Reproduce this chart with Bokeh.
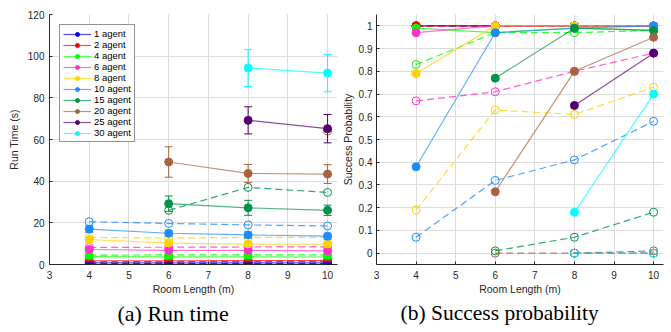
import numpy as np
from bokeh.plotting import figure
from bokeh.layouts import row
from bokeh.models import (ColumnDataSource, Whisker, TeeHead, Legend, LegendItem,
                          Title, Range1d, FixedTicker, CustomJSTickFormatter)
from bokeh.embed import file_html
from bokeh.resources import INLINE

room_length = [4, 6, 8, 10]
agents = [1, 2, 4, 6, 8, 10, 15, 20, 25, 30]
colors = ["#0000FF", "#FF0000", "#00FF00", "#FF33CC", "#FFD200",
          "#1E8CFF", "#00944A", "#A8643F", "#55006E", "#00FFFF"]
N = None

# run time (s), filled markers / solid lines, with +- error
runtime_solid = [
    [0.8, 0.8, 0.8, 0.8],
    [1.8, 1.8, 1.9, 1.9],
    [3.8, 3.7, 3.7, 3.6],
    [7.2, 6.8, 6.8, 6.5],
    [12.0, 10.3, 9.8, 9.8],
    [17.0, 15.0, 14.2, 13.6],
    [N, 29.2, 27.2, 26.0],
    [N, 49.2, 43.7, 43.4],
    [N, N, 69.2, 65.2],
    [N, N, 94.3, 91.9],
]
runtime_err = [
    [0.3, 0.3, 0.3, 0.3],
    [0.3, 0.3, 0.3, 0.3],
    [0.6, 0.6, 0.6, 0.6],
    [0.9, 0.9, 0.9, 0.9],
    [1.4, 1.2, 1.2, 1.2],
    [1.6, 1.4, 1.4, 1.4],
    [N, 3.7, 3.6, 2.5],
    [N, 7.3, 4.3, 4.5],
    [N, N, 6.5, 6.8],
    [N, N, 8.8, 9.0],
]
# run time (s), open markers / dashed lines
runtime_dashed = [
    [0.5, 0.5, 0.5, 0.5],
    [1.4, 1.4, 1.5, 1.5],
    [4.5, 4.6, 4.6, 4.6],
    [8.2, 8.3, 8.4, 8.5],
    [13.0, 12.7, 13.0, 13.0],
    [20.5, 19.7, 19.0, 18.5],
    [N, 26.0, 37.0, 34.6],
    [N, N, N, 64.0],
    [N, N, N, N],
    [N, N, N, N],
]
# success probability
success_solid = [
    [1.0, 1.0, 1.0, 1.0],
    [1.0, 1.0, 1.0, 1.0],
    [0.99, 0.97, 0.99, 0.98],
    [0.97, 1.0, 1.0, 1.0],
    [0.79, 1.0, 1.0, 1.0],
    [0.38, 0.97, 0.99, 1.0],
    [N, 0.77, 0.99, 0.98],
    [N, 0.27, 0.80, 0.95],
    [N, N, 0.65, 0.88],
    [N, N, 0.18, 0.70],
]
success_dashed = [
    [1.0, 1.0, 1.0, 1.0],
    [1.0, 1.0, 1.0, 1.0],
    [0.83, 0.97, 0.97, 0.98],
    [0.67, 0.71, 0.80, 0.88],
    [0.19, 0.63, 0.61, 0.73],
    [0.07, 0.32, 0.41, 0.58],
    [N, 0.01, 0.07, 0.18],
    [N, 0.0, 0.0, 0.01],
    [N, N, 0.0, 0.0],
    [N, N, 0.0, 0.0],
]

x_ticks = [3, 4, 5, 6, 7, 8, 9, 10]
rt_ticks = [0, 20, 40, 60, 80, 100, 120]
sp_ticks = [0, 0.1, 0.2, 0.3, 0.4, 0.5, 0.6, 0.7, 0.8, 0.9, 1.0]

FONT = "Liberation Sans"
SERIF = "Liberation Serif"
TXT = "#262626"


def arr(v):
    return np.array([np.nan if a is None else a for a in v], dtype=float)


def style(p, xlabel, ylabel, yticks, y_std=(5, 5)):
    p.xgrid.ticker = FixedTicker(ticks=x_ticks)
    p.ygrid.ticker = FixedTicker(ticks=yticks)
    for g in (p.xgrid, p.ygrid):
        g.grid_line_color = "#DCDCDC"
        g.grid_line_width = 1
    p.outline_line_color = None
    p.xaxis.ticker = FixedTicker(ticks=x_ticks)
    p.yaxis.ticker = FixedTicker(ticks=yticks)
    for ax in (p.xaxis[0], p.yaxis[0]):
        ax.axis_line_color = TXT
        ax.axis_line_width = 1
        ax.major_tick_line_color = TXT
        ax.major_tick_in = 3
        ax.major_tick_out = 0
        ax.minor_tick_line_color = None
        ax.major_label_text_font = FONT
        ax.major_label_text_font_size = "10px"
        ax.major_label_text_color = TXT
        ax.axis_label_text_font = FONT
        ax.axis_label_text_font_size = "10.5px"
        ax.axis_label_text_font_style = "normal"
        ax.axis_label_text_color = TXT
    p.xaxis.major_label_standoff = 6
    p.xaxis.axis_label_standoff = 1
    p.yaxis.major_label_standoff = y_std[0]
    p.yaxis.axis_label_standoff = y_std[1]
    p.xaxis.axis_label = xlabel
    p.yaxis.axis_label = ylabel
    p.yaxis.formatter = CustomJSTickFormatter(
        code="return tick.toFixed(1).replace(/\\.0$/, '');")


def draw(p, solid, dashed, err=None):
    items = []
    xs = np.array(room_length, dtype=float)
    for i, (ag, c) in enumerate(zip(agents, colors)):
        ys = arr(solid[i])
        m = ~np.isnan(ys)
        rends = []
        if m.any():
            src = dict(x=xs[m], y=ys[m])
            if err is not None:
                e = arr(err[i])[m]
                src["lo"] = ys[m] - e
                src["hi"] = ys[m] + e
            s = ColumnDataSource(src)
            if err is not None:
                w = Whisker(source=s, base="x", lower="lo", upper="hi",
                            line_color=c, line_width=1,
                            upper_head=TeeHead(size=8, line_color=c, line_width=1),
                            lower_head=TeeHead(size=8, line_color=c, line_width=1),
                            level="glyph")
                p.add_layout(w)
            l = p.line("x", "y", source=s, line_color=c, line_width=1.2, line_alpha=0.7)
            sc = p.scatter("x", "y", source=s, size=8, fill_color=c, line_color=c,
                           line_width=1)
            rends = [l, sc]
        yd = arr(dashed[i])
        md = ~np.isnan(yd)
        if md.any():
            sd = ColumnDataSource(dict(x=xs[md], y=yd[md]))
            p.line("x", "y", source=sd, line_color=c, line_width=1.2, line_alpha=0.8,
                   line_dash="7 4")
            p.scatter("x", "y", source=sd, size=8, fill_alpha=0, line_color=c,
                      line_width=1)
        items.append(LegendItem(label=f"{ag} agent", renderers=rends))
    return items


p1 = figure(width=338, height=332, x_range=Range1d(3, 10.25), y_range=Range1d(0, 120),
            output_backend="svg", toolbar_location=None,
            min_border_left=49, min_border_right=1, min_border_top=14, min_border_bottom=68)
style(p1, "Room Length (m)", "Run Time (s)", rt_ticks)
items = draw(p1, runtime_solid, runtime_dashed, runtime_err)
leg = Legend(items=items, location="top_left", label_text_font=FONT,
             label_text_font_size="9.5px", label_text_color="#000000",
             glyph_width=28, glyph_height=10, label_height=10, label_standoff=3,
             spacing=0, padding=3, margin=10,
             border_line_color=TXT, border_line_width=1,
             background_fill_color="white", background_fill_alpha=1)
p1.add_layout(leg)
p1.add_layout(Title(text="(a) Run time", text_font=SERIF, text_font_size="22px",
                    text_font_style="normal", text_color="#000000",
                    align="left", offset=68, standoff=3), "below")

p2 = figure(width=333, height=332, x_range=Range1d(3, 10.25), y_range=Range1d(-0.05, 1.05),
            output_backend="svg", toolbar_location=None,
            min_border_left=38, min_border_right=8, min_border_top=14, min_border_bottom=68)
style(p2, "Room Length (m)", "Success Probability", sp_ticks, y_std=(4, 2))
draw(p2, success_solid, success_dashed)
p2.add_layout(Title(text="(b) Success probability", text_font=SERIF, text_font_size="21.5px",
                    text_font_style="normal", text_color="#000000",
                    align="left", offset=24, standoff=3), "below")

layout = row(p1, p2)
open("out.html", "w").write(file_html(layout, INLINE))
